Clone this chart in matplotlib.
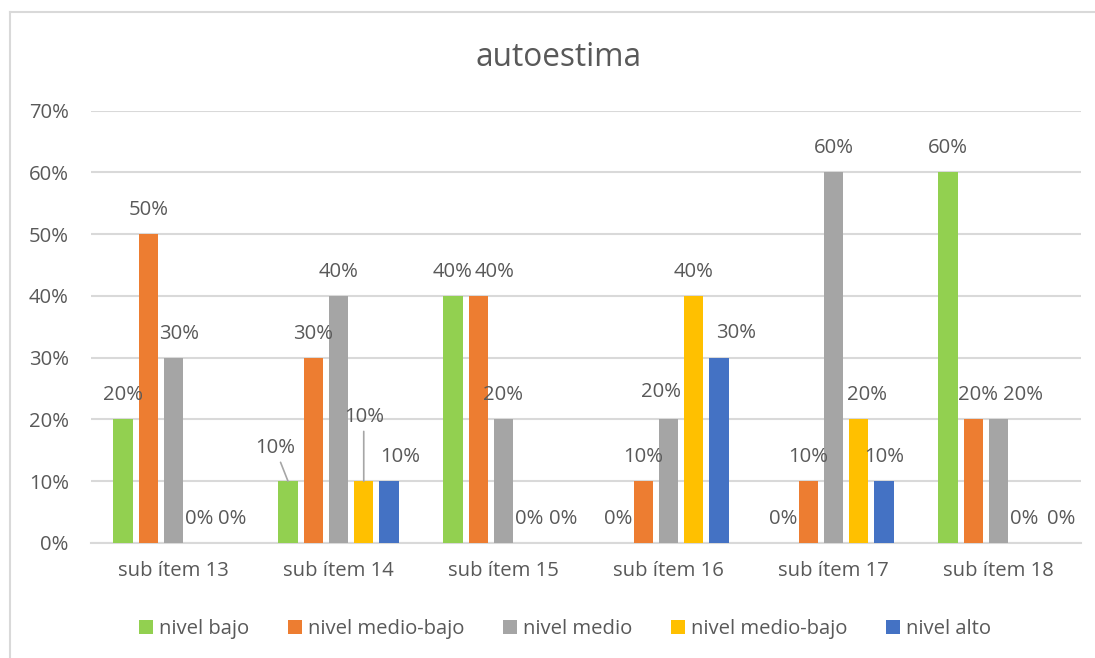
import matplotlib
matplotlib.use("Agg")
import matplotlib.pyplot as plt
from matplotlib.lines import Line2D
from matplotlib.patches import Patch
from matplotlib.ticker import FuncFormatter

categorias = ["sub ítem 13", "sub ítem 14", "sub ítem 15", "sub ítem 16", "sub ítem 17", "sub ítem 18"]
series = ["nivel bajo", "nivel medio-bajo", "nivel medio", "nivel medio-bajo", "nivel alto"]
nivel_bajo = [0.20, 0.10, 0.40, 0.00, 0.00, 0.60]
nivel_medio_bajo = [0.50, 0.30, 0.40, 0.10, 0.10, 0.20]
nivel_medio = [0.30, 0.40, 0.20, 0.20, 0.60, 0.20]
nivel_medio_bajo_2 = [0.00, 0.10, 0.00, 0.40, 0.20, 0.00]
nivel_alto = [0.00, 0.10, 0.00, 0.30, 0.10, 0.00]

valores = [nivel_bajo, nivel_medio_bajo, nivel_medio, nivel_medio_bajo_2, nivel_alto]
colores = ["#92D050", "#ED7D31", "#A5A5A5", "#FFC000", "#4472C4"]

TEXTO = "#595959"
GRID = "#D9D9D9"
FS = 14.6

plt.rcParams["font.family"] = ["Open Sans", "DejaVu Sans"]

# desplazamientos de etiquetas (px) donde Excel las movio: (categoria, serie) -> (dx, dy)
ajustes = {
    (0, 2): (6, 24), (0, 4): (8, 24),
    (1, 0): (-13, 33), (1, 3): (0, 64), (1, 4): (11, 24),
    (2, 1): (16, 24), (2, 4): (9, 24),
    (3, 2): (-7, 27), (3, 4): (17, 25),
    (4, 3): (8, 24),
    (5, 1): (5, 24), (5, 2): (24, 24), (5, 4): (12, 24),
}
con_linea = {(1, 0), (1, 3)}

W, H = 1095, 658
fig = plt.figure(figsize=(W / 100, H / 100), dpi=100)
ax = fig.add_axes([91 / W, 115 / H, 990 / W, (543 - 110.7) / H])

paso = 0.153
ancho = 0.118
xs = list(range(len(categorias)))

for j, (vals, col) in enumerate(zip(valores, colores)):
    pos = [x + (j - 2) * paso for x in xs]
    ax.bar(pos, vals, width=ancho, color=col, zorder=3)
    for i, (p, v) in enumerate(zip(pos, vals)):
        dx, dy = ajustes.get((i, j), (0, 24))
        props = None
        if (i, j) in con_linea:
            props = dict(arrowstyle="-", color="#A6A6A6", lw=1.2, shrinkA=1, shrinkB=0)
        ax.annotate(f"{v:.0%}", xy=(p, v), xytext=(dx, dy), textcoords="offset pixels",
                    ha="center", va="center", fontsize=FS, color=TEXTO,
                    arrowprops=props, zorder=4)

ax.set_xlim(-0.5, len(categorias) - 0.5)
ax.set_ylim(0, 0.7)
ax.set_yticks([i / 10 for i in range(8)])
ax.yaxis.set_major_formatter(FuncFormatter(lambda v, _: f"{v:.0%}"))
ax.set_xticks(xs)
ax.set_xticklabels(categorias)
ax.grid(axis="y", color=GRID, linewidth=1.5, zorder=0)
for s in ["top", "right", "left"]:
    ax.spines[s].set_visible(False)
ax.spines["bottom"].set_color(GRID)
ax.spines["bottom"].set_linewidth(1.5)
ax.tick_params(axis="both", length=0, labelsize=FS, labelcolor=TEXTO)
ax.tick_params(axis="y", pad=16)
ax.tick_params(axis="x", pad=13)

fig.text(558.5 / W, 1 - 58 / H, "autoestima", ha="center", va="center",
         fontsize=22.8, color=TEXTO)

handles = [Patch(facecolor=c, edgecolor="none") for c in colores]
fig.legend(handles, series, loc="center", bbox_to_anchor=(565 / W, 1 - 629 / H),
           ncol=5, frameon=False, fontsize=FS, labelcolor=TEXTO,
           handlelength=0.68, handleheight=0.68, handletextpad=0.3,
           columnspacing=1.92)

# borde del area del grafico (solo se ven izquierda y arriba)
fig.add_artist(Line2D([10 / W, 10 / W], [0, 1 - 12 / H], color=GRID, lw=1.5))
fig.add_artist(Line2D([10 / W, 1], [1 - 12 / H, 1 - 12 / H], color=GRID, lw=1.5))

fig.savefig("out.png", dpi=100)
